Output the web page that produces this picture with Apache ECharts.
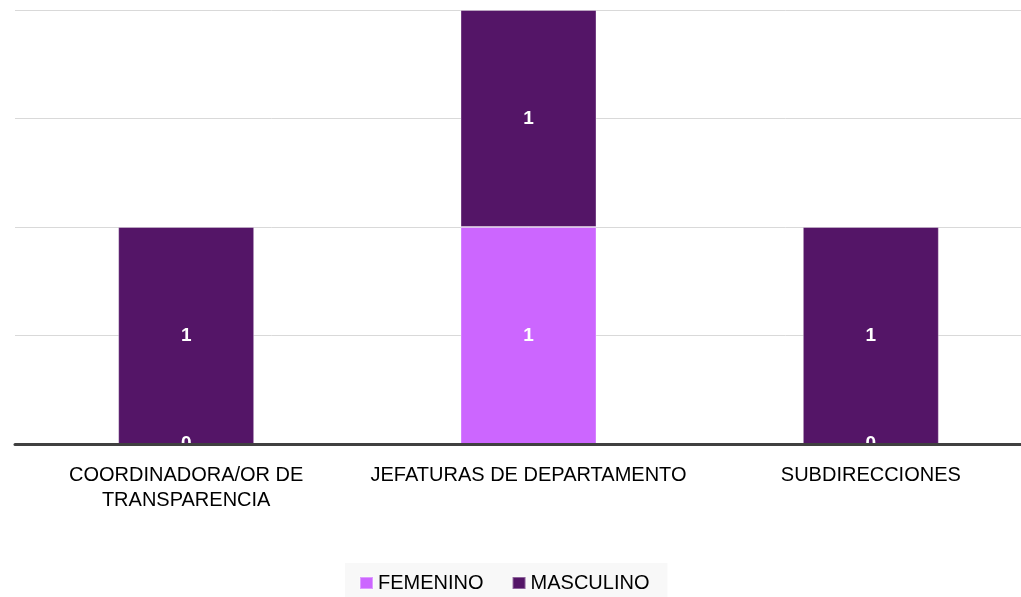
<!DOCTYPE html>
<html>
<head>
<meta charset="utf-8">
<script src="https://cdn.jsdelivr.net/npm/echarts@6/dist/echarts.min.js"></script>
<style>
  html, body { margin: 0; padding: 0; background: #ffffff; overflow: hidden; }
  #chart { width: 1042px; height: 597px; }
</style>
</head>
<body>
<div id="chart"></div>
<script>
// categories and series values
var categories = ['COORDINADORA/OR DE\nTRANSPARENCIA', 'JEFATURAS DE DEPARTAMENTO', 'SUBDIRECCIONES'];
var femenino = [0, 1, 0];
var masculino = [1, 1, 1];

// the plot area runs a little past the right edge of the picture,
// so the chart box is wider than the window and gets cropped
var chart = echarts.init(document.getElementById('chart'));

var labelStyle = {
    show: true,
    position: 'inside',
    color: '#ffffff',
    fontWeight: 'bold',
    fontSize: 19,
    fontFamily: 'Liberation Sans'
};

var option = {
    backgroundColor: '#ffffff',
    animation: false,
    textStyle: { fontFamily: 'Liberation Sans' },
    grid: {
        left: 15,
        top: 10,
        right: 0,
        bottom: 153
    },
    legend: {
        data: ['FEMENINO', 'MASCULINO'],
        left: 345,
        top: 563,
        padding: [10, 18, 12, 14],
        backgroundColor: '#f8f8f8',
        icon: 'rect',
        itemWidth: 13,
        itemHeight: 12,
        itemGap: 28,
        textStyle: { fontSize: 20, color: '#000000', fontFamily: 'Liberation Sans' }
    },
    xAxis: {
        type: 'category',
        data: categories,
        z: 10,
        axisLine: { lineStyle: { color: '#404040', width: 3 } },
        axisTick: { show: false },
        axisLabel: {
            interval: 0,
            margin: 19,
            fontSize: 20,
            lineHeight: 25,
            color: '#000000',
            verticalAlign: 'top',
            fontFamily: 'Liberation Sans'
        }
    },
    yAxis: {
        type: 'value',
        min: 0,
        max: 2,
        interval: 0.5,
        axisLine: { show: false },
        axisTick: { show: false },
        axisLabel: { show: false },
        splitLine: { lineStyle: { color: '#d9d9d9', width: 1 } }
    },
    series: [
        {
            name: 'FEMENINO',
            type: 'bar',
            stack: 'total',
            barWidth: 136,
            data: femenino,
            itemStyle: { color: '#cc66ff', borderColor: 'rgba(255,255,255,0.35)', borderWidth: 1 },
            label: labelStyle
        },
        {
            name: 'MASCULINO',
            type: 'bar',
            stack: 'total',
            barWidth: 136,
            data: masculino,
            itemStyle: { color: '#541567', borderColor: 'rgba(255,255,255,0.35)', borderWidth: 1 },
            label: labelStyle
        }
    ]
};

chart.setOption(option);
</script>
</body>
</html>
